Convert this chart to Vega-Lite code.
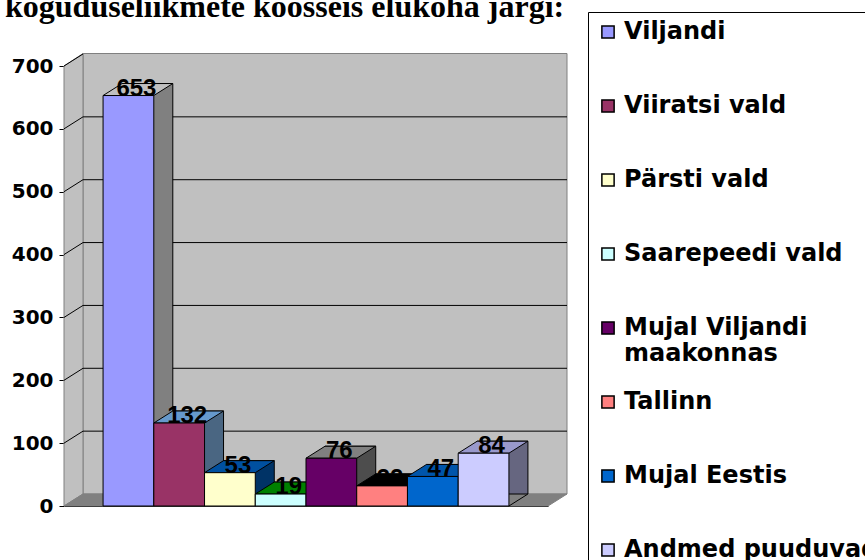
{
  "$schema": "https://vega.github.io/schema/vega-lite/v6.json",
  "width": 484,
  "height": 440,
  "autosize": {"type": "none"},
  "padding": {"left": 64, "top": 66, "right": 317, "bottom": 54},
  "background": "white",
  "title": {
    "text": "koguduseliikmete koosseis elukoha järgi:",
    "font": "Liberation Serif",
    "fontSize": 32,
    "fontWeight": "bold",
    "color": "black",
    "anchor": "start",
    "frame": "group",
    "dx": -59,
    "dy": 37,
    "offset": 0,
    "baseline": "alphabetic"
  },
  "config": {
    "view": {"stroke": null},
    "axis": {"zindex": 1, "domainColor": "black", "domainWidth": 1, "tickColor": "black", "grid": false},
    "axisY": {"tickSize": 5, "labelFont": "DejaVu Sans", "labelFontWeight": "bold", "labelFontSize": 20, "labelColor": "black", "labelPadding": 6},
    "axisX": {"ticks": false, "labels": false}
  },
  "datasets": {
    "bars": [
      {"place": "Viljandi", "count": 653},
      {"place": "Viiratsi vald", "count": 132},
      {"place": "Pärsti vald", "count": 53},
      {"place": "Saarepeedi vald", "count": 19},
      {"place": "Mujal Viljandi maakonnas", "count": 76},
      {"place": "Tallinn", "count": 32},
      {"place": "Mujal Eestis", "count": 47},
      {"place": "Andmed puuduvad", "count": 84}
    ],
    "ticks": [
      {"v": 100}, {"v": 200}, {"v": 300}, {"v": 400}, {"v": 500}, {"v": 600}, {"v": 700}
    ]
  },
  "resolve": {"scale": {"fill": "independent"}},
  "layer": [
    {
      "data": {"values": [{}]},
      "mark": {"type": "point", "shape": "M-223,-12L261,-12L261,-452.5L-223,-452.5Z", "size": 4, "filled": true, "fill": "#c0c0c0", "stroke": "#808080", "strokeWidth": 1, "opacity": 1},
      "encoding": {"y": {"datum": 0, "type": "quantitative", "title": null}}
    },
    {
      "data": {"values": [{}]},
      "mark": {"type": "point", "shape": "M-242,0L-223,-12L-223,-452.5L-242,-440Z", "size": 4, "filled": true, "fill": "#c0c0c0", "stroke": "#808080", "strokeWidth": 1, "opacity": 1},
      "encoding": {"y": {"datum": 0, "type": "quantitative", "title": null}}
    },
    {
      "data": {"values": [{}]},
      "mark": {"type": "point", "shape": "M-242,0L-223,-12L261,-12L242,0Z", "size": 4, "filled": true, "fill": "#808080", "stroke": "#808080", "strokeWidth": 1, "opacity": 1},
      "encoding": {"y": {"datum": 0, "type": "quantitative", "title": null}}
    },
    {
      "data": {"name": "ticks"},
      "transform": [{"filter": "datum.v < 700"}],
      "mark": {"type": "point", "shape": "M-242,0L-223,-12L261,-12", "size": 4, "filled": false, "stroke": "black", "strokeWidth": 1, "opacity": 1},
      "encoding": {"y": {"field": "v", "type": "quantitative", "title": null}}
    },
    {
      "data": {"name": "ticks"},
      "transform": [{"filter": "datum.v == 700"}],
      "mark": {"type": "point", "shape": "M-242,0L-223,-12", "size": 4, "filled": false, "stroke": "black", "strokeWidth": 1, "opacity": 1},
      "encoding": {"y": {"field": "v", "type": "quantitative", "title": null}}
    },
    {
      "data": {"name": "bars"},
      "mark": {"type": "bar", "xOffset": 19, "yOffset": -12, "y2Offset": 0, "stroke": "black", "strokeWidth": 1},
      "encoding": {
        "x": {"field": "place", "type": "nominal", "sort": null, "title": null, "scale": {"paddingInner": 0, "paddingOuter": 0.77}},
        "y": {"field": "count", "type": "quantitative", "title": null, "scale": {"domain": [0, 700], "nice": false}, "axis": {"values": [0, 100, 200, 300, 400, 500, 600, 700]}},
        "fill": {
          "field": "place", "type": "nominal", "legend": null,
          "scale": {
            "domain": ["Viljandi", "Viiratsi vald", "Pärsti vald", "Saarepeedi vald", "Mujal Viljandi maakonnas", "Tallinn", "Mujal Eestis", "Andmed puuduvad"],
            "range": ["#808080", "#4a6682", "#003366", "#005a00", "#4d4d4d", "#000000", "#003366", "#666680"]
          }
        }
      }
    },
    {
      "data": {"name": "bars"},
      "mark": {"type": "point", "shape": "M25.9,0L44.4,-12L47,-12L47,0Z", "size": 4, "filled": true, "fill": "#808080", "strokeWidth": 0, "opacity": 1},
      "encoding": {
        "x": {"field": "place", "type": "nominal", "sort": null, "title": null},
        "y": {"datum": 0, "type": "quantitative", "title": null}
      }
    },
    {
      "data": {"name": "bars"},
      "mark": {"type": "point", "shape": "M25.37,0L44.37,-12", "size": 4, "filled": false, "stroke": "black", "strokeWidth": 1, "opacity": 1},
      "encoding": {
        "x": {"field": "place", "type": "nominal", "sort": null, "title": null},
        "y": {"datum": 0, "type": "quantitative", "title": null}
      }
    },
    {
      "data": {"name": "bars"},
      "mark": {"type": "point", "shape": "M-25.37,0L25.37,0L44.37,-12L-6.37,-12Z", "size": 4, "filled": true, "stroke": "black", "strokeWidth": 1, "opacity": 1},
      "encoding": {
        "x": {"field": "place", "type": "nominal", "sort": null, "title": null},
        "y": {"field": "count", "type": "quantitative", "title": null},
        "fill": {
          "field": "place", "type": "nominal", "legend": null,
          "scale": {
            "domain": ["Viljandi", "Viiratsi vald", "Pärsti vald", "Saarepeedi vald", "Mujal Viljandi maakonnas", "Tallinn", "Mujal Eestis", "Andmed puuduvad"],
            "range": ["#c0c0c0", "#6699cc", "#0050a0", "#008000", "#808080", "#000000", "#0055aa", "#9999cc"]
          }
        }
      }
    },
    {
      "data": {"name": "bars"},
      "mark": {"type": "bar", "stroke": "black", "strokeWidth": 1},
      "encoding": {
        "x": {"field": "place", "type": "nominal", "sort": null, "title": null},
        "y": {"field": "count", "type": "quantitative", "title": null},
        "color": {
          "field": "place", "type": "nominal",
          "scale": {
            "domain": ["Viljandi", "Viiratsi vald", "Pärsti vald", "Saarepeedi vald", "Mujal Viljandi maakonnas", "Tallinn", "Mujal Eestis", "Andmed puuduvad"],
            "range": ["#9999ff", "#993366", "#ffffcc", "#ccffff", "#660066", "#ff8080", "#0066cc", "#ccccff"]
          },
          "legend": {
            "orient": "none",
            "legendX": 524,
            "legendY": -54,
            "title": null,
            "symbolType": "square",
            "symbolSize": 150,
            "symbolStrokeColor": "black",
            "symbolStrokeWidth": 1.5,
            "labelFont": "DejaVu Sans",
            "labelFontWeight": "bold",
            "labelFontSize": 24,
            "labelColor": "black",
            "labelLimit": 400,
            "labelOffset": 4,
            "labelExpr": "datum.label == 'Mujal Viljandi maakonnas' ? ['Mujal Viljandi', 'maakonnas'] : datum.label",
            "rowPadding": 24,
            "padding": 8,
            "gridAlign": "all",
            "strokeColor": "black",
            "fillColor": "white"
          }
        }
      }
    },
    {
      "data": {"name": "bars"},
      "mark": {"type": "text", "font": "Liberation Sans", "fontWeight": "bold", "fontSize": 24, "baseline": "alphabetic", "align": "center", "dx": 8, "dy": 0, "color": "black"},
      "encoding": {
        "x": {"field": "place", "type": "nominal", "sort": null, "title": null},
        "y": {"field": "count", "type": "quantitative", "title": null},
        "text": {"field": "count", "type": "quantitative"}
      }
    }
  ]
}
